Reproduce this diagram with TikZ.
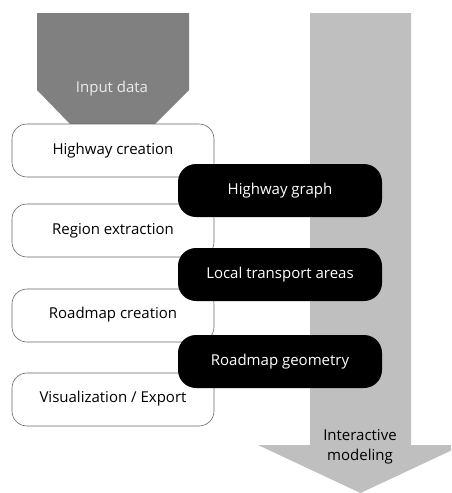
\documentclass[tikz,border=0pt]{standalone}
\usepackage{fontspec}
\setmainfont{Open Sans}
\begin{document}
\begin{tikzpicture}[x=1pt,y=-1pt,
  stepbox/.style={draw=black!60,line width=0.6pt,fill=white,rounded corners=15pt},
  databox/.style={fill=black,rounded corners=18pt},
  lbl/.style={font=\fontsize{15}{20}\selectfont,text=black},
  wlbl/.style={font=\fontsize{15}{20}\selectfont,text=white}]
\useasboundingbox (0,0) rectangle (451,493);
\begin{scope}
\clip (0,0) rectangle (451,493);
% gray arrow
\fill[black!25] (310,13) -- (411,13) -- (411,445) -- (463,445) -- (360.5,493) -- (258,445) -- (310,445) -- cycle;
\end{scope}
\node[lbl,align=center] (im) at (360,447) {Interactive\\modeling};
% input data
\fill[black!50] (37,13) -- (189,13) -- (189,90) -- (155,124) -- (70,124) -- (37,90) -- cycle;
\node[font=\fontsize{15}{20}\selectfont,text=black!8] (in) at (112,89) {Input data};
% step boxes
\draw[stepbox] (12,124) rectangle (214,177);
\node[lbl] (hc) at (113,151) {Highway creation};
\draw[stepbox] (12,204) rectangle (214,257);
\node[lbl] (re) at (113,231) {Region extraction};
\draw[stepbox] (12,289) rectangle (214,342);
\node[lbl] (rc) at (113,315) {Roadmap creation};
\draw[stepbox] (12,373) rectangle (214,426);
\node[lbl] (ve) at (113,399) {Visualization / Export};
% data boxes
\fill[databox] (178,164) rectangle (382,217);
\node[wlbl] (hg) at (280,191) {Highway graph};
\fill[databox] (178,248) rectangle (382,301);
\node[wlbl] (lt) at (280,275) {Local transport areas};
\fill[databox] (178,335) rectangle (382,388);
\node[wlbl] (rg) at (280,362) {Roadmap geometry};
\end{tikzpicture}
\end{document}
